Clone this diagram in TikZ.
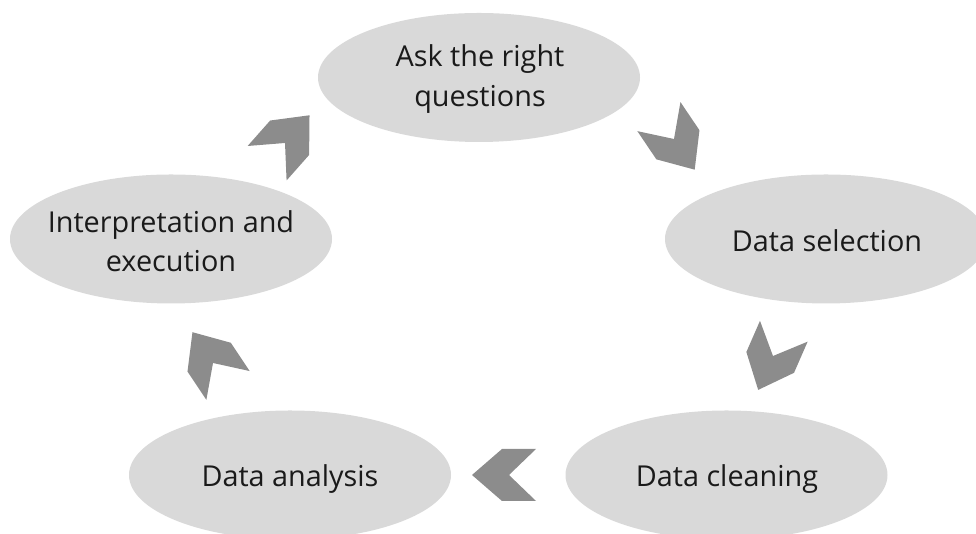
\documentclass[tikz,border=0pt]{standalone}
\usepackage{fontspec}
\setmainfont{Open Sans}
\usetikzlibrary{shapes.geometric}
\definecolor{bubble}{HTML}{D9D9D9}
\definecolor{chevgray}{HTML}{8C8C8C}
\definecolor{ink}{HTML}{1A1A1A}
\begin{document}
\begin{tikzpicture}[x=0.75pt,y=0.75pt,
  stage/.style={ellipse, fill=bubble, draw=none, inner sep=0pt,
    minimum width=241.5pt, minimum height=96.75pt},
  stagetext/.style={align=center, text=ink, inner sep=0pt,
    font=\fontsize{21.6}{29.5}\selectfont},
  chev/.pic={\fill[chevgray] (0,0) -- (-27,26) -- (7,26) -- (37,0) -- (7,-26) -- (-27,-26) -- cycle;}]
\useasboundingbox (0,0) rectangle (976,534);
\clip (0,0) rectangle (976,534);
% the five stages of the cycle
\node[stage] (ask)    at (479,456.5) {};
\node[stage] (select) at (826,295)   {};
\node[stage] (clean)  at (726.5,59)  {};
\node[stage] (anal)   at (290,59)    {};
\node[stage] (interp) at (171,295)   {};
\node[stagetext] (ask-t)    at (480,455) {Ask the right\\questions};
\node[stagetext] (select-t) at (827,293) {Data selection};
\node[stagetext] (clean-t)  at (727,55)  {Data cleaning};
\node[stagetext] (anal-t)   at (290,55)  {Data analysis};
\node[stagetext] (interp-t) at (171,293) {Interpretation and\\execution};
% chevrons pointing along the cycle
\pic[rotate=-56]   at (674,395) {chev};
\pic[rotate=-113.6] at (773,178) {chev};
\pic[rotate=180]   at (509,59)  {chev};
\pic[rotate=123.7] at (213,171) {chev};
\pic[rotate=48.5]  at (285,391) {chev};
\end{tikzpicture}
\end{document}
